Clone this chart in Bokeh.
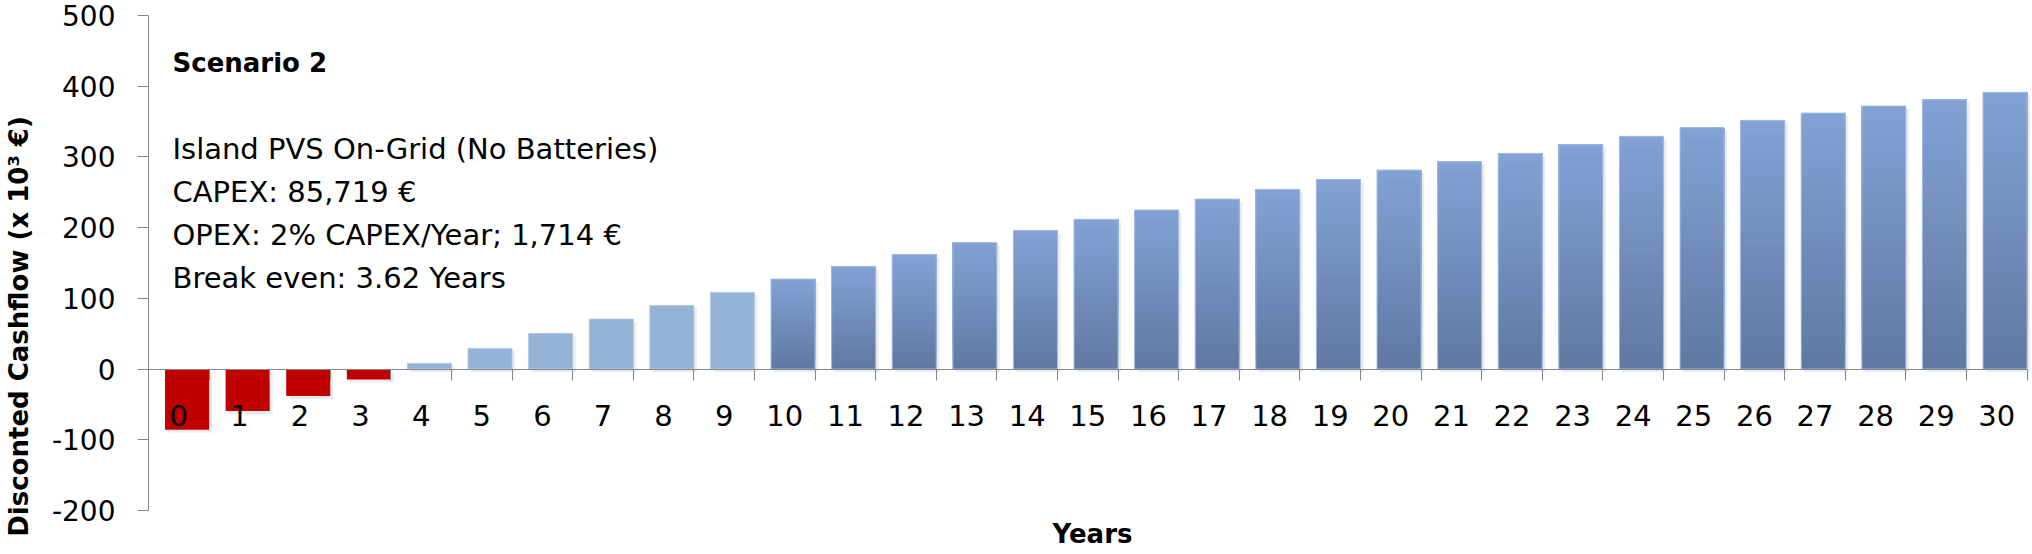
import numpy as np
from bokeh.plotting import figure
from bokeh.models import Range1d, FixedTicker, Label
from bokeh.embed import file_html
from bokeh.resources import INLINE

# ---------------- data ----------------
years = list(range(31))
cashflow = [-85.7, -59.4, -38.2, -14.6, 8.0, 29.2, 50.4, 70.7, 90.0, 108.4,
            127.3, 144.7, 161.7, 179.0, 196.1, 211.7, 224.9, 240.4, 254.1, 267.8,
            281.4, 293.2, 305.0, 317.2, 329.1, 341.3, 351.7, 362.0, 371.9, 380.9,
            391.3]
bar_style = ["neg"] * 4 + ["flat"] * 6 + ["grad"] * 21
y_ticks = [-200, -100, 0, 100, 200, 300, 400, 500]
scenario_title = "Scenario 2"
info_lines = ["Island PVS On-Grid (No Batteries)",
              "CAPEX: 85,719 €",
              "OPEX: 2% CAPEX/Year; 1,714 €",
              "Break even:  3.62 Years"]
x_title = "Years"
y_title = "Disconted Cashflow (x 10³ €)"

# ---------------- layout / styling ----------------
W, H = 2032, 554
FONT = "DejaVu Sans"
AXIS_GRAY = "#868686"
RED = "#C00000"
FLAT_BLUE = "#95B3D7"
GRAD_TOP = (131, 162, 213)
GRAD_BOT = (96, 121, 163)
BAR_W = 0.727
BAR_SHIFT = 0.136

# pixel geometry of the plotting area (frame covers whole canvas)
PX_LEFT, PX_CAT = 148.0, 60.6          # x=-0.5 at 148 px, 60.6 px per year
PY_TOP, PY_BOT = 15.0, 510.0           # y=500 at 15 px, y=-200 at 510 px
YPX = (PY_BOT - PY_TOP) / 700.0
x_start = -0.5 - PX_LEFT / PX_CAT
x_end = x_start + W / PX_CAT
y_end = 500 + PY_TOP / YPX
y_start = y_end - H / YPX

p = figure(width=W, height=H, output_backend="svg", toolbar_location=None,
           x_range=Range1d(x_start, x_end), y_range=Range1d(y_start, y_end),
           min_border=0, min_border_left=0, min_border_right=0,
           min_border_top=0, min_border_bottom=0)
p.grid.grid_line_color = None
p.outline_line_color = None
p.background_fill_color = "white"
p.border_fill_color = "white"

xs = [y + BAR_SHIFT for y in years]

# soft shadow under every bar
p.vbar(x=[x + 0.05 for x in xs], width=BAR_W,
       bottom=[min(v, 0) - 4 for v in cashflow],
       top=[v - 4 if v > 0 else -4 for v in cashflow],
       fill_color="#000000", fill_alpha=0.08, line_color=None)

# red (negative) bars
neg_x = [x for x, s in zip(xs, bar_style) if s == "neg"]
neg_v = [v for v, s in zip(cashflow, bar_style) if s == "neg"]
p.vbar(x=neg_x, width=BAR_W, bottom=0, top=neg_v, fill_color=RED, line_color=None)

# flat light-blue bars
fl_x = [x for x, s in zip(xs, bar_style) if s == "flat"]
fl_v = [v for v, s in zip(cashflow, bar_style) if s == "flat"]
p.vbar(x=fl_x, width=BAR_W, bottom=0, top=fl_v, fill_color=FLAT_BLUE,
       line_color="#B4C8E4", line_width=1)

# gradient bars: stacked overlapping layers, each from its level up to the bar top
gr_x = [x for x, s in zip(xs, bar_style) if s == "grad"]
gr_v = [v for v, s in zip(cashflow, bar_style) if s == "grad"]
N = 40
bx, bb, bt, bc = [], [], [], []
for k in range(N):
    f = (k + 0.5) / N
    col = "#%02x%02x%02x" % tuple(int(GRAD_BOT[i] + (GRAD_TOP[i] - GRAD_BOT[i]) * f)
                                  for i in range(3))
    for x, v in zip(gr_x, gr_v):
        bx.append(x)
        bb.append(v * k / N)
        bt.append(v)
        bc.append(col)
p.vbar(x=bx, width=BAR_W, bottom=bb, top=bt, fill_color=bc, line_color=None)
p.vbar(x=gr_x, width=BAR_W, bottom=0, top=gr_v, fill_color=None,
       line_color="#A6BDE2", line_width=1)

# ---------------- axes ----------------
xa = p.xaxis[0]
xa.fixed_location = 0
xa.bounds = (-0.5, 30.5)
xa.ticker = FixedTicker(ticks=years,
                        minor_ticks=[y - 0.5 for y in years] + [years[-1] + 0.5])
xa.major_label_overrides = {y: str(y) for y in years}
xa.major_tick_out = 0
xa.major_tick_in = 0
xa.minor_tick_out = 11
xa.minor_tick_in = 0
xa.minor_tick_line_color = AXIS_GRAY
xa.axis_line_color = AXIS_GRAY
xa.major_label_standoff = 25
xa.major_label_text_font = FONT
xa.major_label_text_font_size = "29px"
xa.major_label_text_color = "black"

ya = p.yaxis[0]
ya.fixed_location = -0.5
ya.bounds = (-200, 500)
ya.ticker = FixedTicker(ticks=y_ticks, minor_ticks=[])
ya.major_label_overrides = {t: str(t) for t in y_ticks}
ya.major_tick_out = 11
ya.major_tick_in = 0
ya.minor_tick_out = 0
ya.major_tick_line_color = AXIS_GRAY
ya.axis_line_color = AXIS_GRAY
ya.major_label_standoff = 22
ya.major_label_text_font = FONT
ya.major_label_text_font_size = "28px"
ya.major_label_text_color = "black"


def dx(px):
    return -0.5 + (px - PX_LEFT) / PX_CAT


def dy(py):
    return 500 - (py - PY_TOP) / YPX


# ---------------- text ----------------
p.add_layout(Label(x=dx(172), y=dy(62), text=scenario_title, text_font=FONT,
                   text_font_style="bold", text_font_size="26px",
                   text_baseline="middle", text_align="left", text_color="black"))
for txt, py in zip(info_lines, [148, 191, 234, 277]):
    p.add_layout(Label(x=dx(172), y=dy(py), text=txt, text_font=FONT,
                       text_font_size="29px", text_baseline="middle",
                       text_align="left", text_color="black"))

p.add_layout(Label(x=dx(1092), y=dy(533), text=x_title, text_font=FONT,
                   text_font_style="bold", text_font_size="26px",
                   text_baseline="middle", text_align="center", text_color="black"))
p.add_layout(Label(x=dx(18), y=dy(326), text=y_title, text_font=FONT,
                   text_font_style="bold", text_font_size="26px", angle=np.pi / 2,
                   text_baseline="middle", text_align="center", text_color="black"))

open("out.html", "w").write(file_html(p, INLINE))
